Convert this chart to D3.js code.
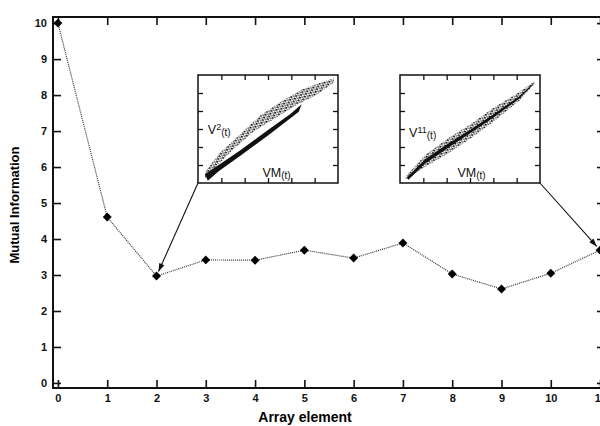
<!DOCTYPE html>
<html>
<head>
<meta charset="utf-8">
<script src="https://cdn.jsdelivr.net/npm/d3@7"></script>
<style>
    body { margin: 0; background: #fff; }
    text { font-family: "Liberation Sans", Arial, Helvetica, sans-serif; }
    .axis text { font-weight: bold; font-size: 11px; fill: #111; }
    .axis line { stroke: #111; stroke-width: 1.6; }
</style>
</head>
<body>
<div id="chart"></div>
<script>
'use strict';

// main series
const arrayElements = [0, 1, 2, 3, 4, 5, 6, 7, 8, 9, 10, 11];
const mutualInfo = [10, 4.61, 2.97, 3.42, 3.41, 3.69, 3.47, 3.89, 3.03, 2.61, 3.05, 3.69];
const yTickValues = [0, 1, 2, 3, 4, 5, 6, 7, 8, 9, 10];

// inset scatter envelopes, in unit coords of each inset (x right, y up)
const inset1Speckle = [
    [0.05, 0.10], [0.15, 0.27], [0.30, 0.45], [0.45, 0.63], [0.60, 0.76], [0.75, 0.87], [0.90, 0.94], [0.97, 0.97],
    [0.97, 0.93], [0.85, 0.82], [0.70, 0.72], [0.55, 0.60], [0.40, 0.48], [0.25, 0.31], [0.12, 0.14], [0.05, 0.04]
];
const inset1Core = [
    [0.05, 0.08], [0.15, 0.17], [0.30, 0.30], [0.50, 0.49], [0.66, 0.64], [0.74, 0.73],
    [0.72, 0.66], [0.50, 0.44], [0.30, 0.25], [0.15, 0.11], [0.07, 0.02]
];
const inset2Speckle = [
    [0.04, 0.06], [0.18, 0.26], [0.35, 0.42], [0.50, 0.54], [0.66, 0.69], [0.85, 0.84], [0.96, 0.94],
    [0.96, 0.92], [0.85, 0.76], [0.66, 0.56], [0.50, 0.41], [0.35, 0.28], [0.18, 0.15], [0.04, 0.03]
];
const inset2Core = [
    [0.05, 0.05], [0.18, 0.22], [0.35, 0.37], [0.50, 0.49], [0.66, 0.63], [0.85, 0.80], [0.96, 0.93],
    [0.95, 0.91], [0.85, 0.78], [0.66, 0.60], [0.50, 0.46], [0.35, 0.33], [0.18, 0.18], [0.06, 0.03]
];

const width = 600, height = 426;

const svg = d3.select('#chart').append('svg')
    .attr('width', width)
    .attr('height', height);

const defs = svg.append('defs');
defs.append('pattern')
    .attr('id', 'speckle')
    .attr('patternUnits', 'userSpaceOnUse')
    .attr('patternTransform', 'rotate(25)')
    .attr('width', 4).attr('height', 3)
    .call(function(p) {
        p.append('rect').attr('x', 0).attr('y', 0).attr('width', 2).attr('height', 1.6).attr('fill', '#111');
        p.append('rect').attr('x', 2.4).attr('y', 1.5).attr('width', 1.4).attr('height', 1.3).attr('fill', '#222');
    });
defs.append('marker')
    .attr('id', 'arrow')
    .attr('viewBox', '0 0 10 10')
    .attr('refX', 10).attr('refY', 5)
    .attr('markerWidth', 10).attr('markerHeight', 8)
    .attr('markerUnits', 'userSpaceOnUse')
    .attr('orient', 'auto')
    .append('path')
    .attr('d', 'M0,1.5 L10,5 L0,8.5 Z')
    .attr('fill', '#111');

const x = d3.scaleLinear().domain([-0.1, 11.1]).range([53, 605]);
const y = d3.scaleLinear().domain([-0.14, 10.17]).range([388, 17]);

// axes, ticks pointing inward
svg.append('g')
    .attr('class', 'axis')
    .attr('transform', `translate(0,${y.range()[0]})`)
    .call(d3.axisBottom(x).tickValues(arrayElements).tickSize(-8).tickSizeOuter(0).tickPadding(6))
    .call(g => g.select('.domain').remove());
svg.append('g')
    .attr('class', 'axis')
    .attr('transform', `translate(0,${y.range()[1]})`)
    .call(d3.axisTop(x).tickValues(arrayElements).tickSize(-8).tickSizeOuter(0).tickFormat(''))
    .call(g => g.select('.domain').remove());
svg.append('g')
    .attr('class', 'axis')
    .attr('transform', `translate(${x.range()[0]},0)`)
    .call(d3.axisLeft(y).tickValues(yTickValues).tickSize(-8).tickSizeOuter(0).tickPadding(6))
    .call(g => g.select('.domain').remove());
svg.append('g')
    .attr('class', 'axis')
    .attr('transform', `translate(${x.range()[1]},0)`)
    .call(d3.axisRight(y).tickValues(yTickValues).tickSize(-8).tickSizeOuter(0).tickFormat(''))
    .call(g => g.select('.domain').remove());

svg.append('rect')
    .attr('x', x.range()[0]).attr('y', y.range()[1])
    .attr('width', x.range()[1] - x.range()[0])
    .attr('height', y.range()[0] - y.range()[1])
    .attr('fill', 'none')
    .attr('stroke', '#111')
    .attr('stroke-width', 2);

// axis titles
svg.append('text')
    .attr('x', 305).attr('y', 422)
    .attr('text-anchor', 'middle')
    .style('font-weight', 'bold').style('font-size', '14px')
    .text('Array element');
svg.append('text')
    .attr('transform', 'translate(19,205) rotate(-90)')
    .attr('text-anchor', 'middle')
    .style('font-weight', 'bold').style('font-size', '13px')
    .text('Mutual Information');

// series line + diamonds
const points = arrayElements.map((d, i) => [x(d), y(mutualInfo[i])]);
svg.append('path')
    .attr('d', d3.line()(points))
    .attr('fill', 'none')
    .attr('stroke', '#333')
    .attr('stroke-width', 1.2)
    .attr('stroke-dasharray', '1,1');
svg.selectAll('.pt')
    .data(points)
    .enter().append('path')
    .attr('class', 'pt')
    .attr('transform', d => `translate(${d[0]},${d[1]}) rotate(45)`)
    .attr('d', d3.symbol().type(d3.symbolSquare).size(40))
    .attr('fill', '#000');

// insets
function drawInset(box, speckle, core, yLabel, yLabelPos, vmPos) {
    const ix = d3.scaleLinear().domain([0, 1]).range([box.x0, box.x1]);
    const iy = d3.scaleLinear().domain([0, 1]).range([box.y1, box.y0]);
    const g = svg.append('g');
    g.append('rect')
        .attr('x', box.x0).attr('y', box.y0)
        .attr('width', box.x1 - box.x0).attr('height', box.y1 - box.y0)
        .attr('fill', '#fff');
    const unitTicks = [1, 2, 3, 4, 5].map(d => d / 6);
    const tickAxis = [
        [d3.axisBottom(ix), `translate(0,${box.y1})`],
        [d3.axisTop(ix), `translate(0,${box.y0})`],
        [d3.axisLeft(iy), `translate(${box.x0},0)`],
        [d3.axisRight(iy), `translate(${box.x1},0)`]
    ];
    tickAxis.forEach(function(a) {
        g.append('g')
            .attr('transform', a[1])
            .call(a[0].tickValues(unitTicks).tickSize(-5).tickSizeOuter(0).tickFormat(''))
            .call(s => s.select('.domain').remove())
            .call(s => s.selectAll('line').attr('stroke', '#111').attr('stroke-width', 1.3));
    });
    const line = d3.line().x(d => ix(d[0])).y(d => iy(d[1])).curve(d3.curveLinearClosed);
    g.append('path').attr('d', line(speckle)).attr('fill', 'url(#speckle)');
    g.append('path').attr('d', line(core)).attr('fill', '#111');
    g.append('rect')
        .attr('x', box.x0).attr('y', box.y0)
        .attr('width', box.x1 - box.x0).attr('height', box.y1 - box.y0)
        .attr('fill', 'none')
        .attr('stroke', '#111')
        .attr('stroke-width', 1.5);

    const t1 = g.append('text')
        .attr('x', ix(yLabelPos[0])).attr('y', iy(yLabelPos[1]))
        .style('font-size', '12.5px').attr('fill', '#111');
    t1.append('tspan').text('V');
    t1.append('tspan').attr('dy', -4).style('font-size', '9px').text(yLabel);
    t1.append('tspan').attr('dy', 6).style('font-size', '10px').text('(t)');

    const t2 = g.append('text')
        .attr('x', ix(vmPos[0])).attr('y', iy(vmPos[1]))
        .style('font-size', '12.5px').attr('fill', '#111');
    t2.append('tspan').text('VM');
    t2.append('tspan').attr('dy', 2).style('font-size', '10px').text('(t)');
}

const box1 = {x0: 198, x1: 338, y0: 75, y1: 183};
const box2 = {x0: 400, x1: 540, y0: 75, y1: 183};
drawInset(box1, inset1Speckle, inset1Core, '2', [0.07, 0.45], [0.46, 0.06]);
drawInset(box2, inset2Speckle, inset2Core, '11', [0.065, 0.43], [0.41, 0.06]);

// arrows from inset corners to their array elements
function arrowTo(from, target, gap) {
    const dx = target[0] - from[0], dy = target[1] - from[1];
    const len = Math.sqrt(dx * dx + dy * dy);
    const end = [target[0] - dx / len * gap, target[1] - dy / len * gap];
    svg.append('line')
        .attr('x1', from[0]).attr('y1', from[1])
        .attr('x2', end[0]).attr('y2', end[1])
        .attr('stroke', '#111')
        .attr('stroke-width', 1.1)
        .attr('marker-end', 'url(#arrow)');
}
arrowTo([box1.x0, box1.y1], points[2], 5);
arrowTo([box2.x1, box2.y1], points[11], 5);
</script>
</body>
</html>
